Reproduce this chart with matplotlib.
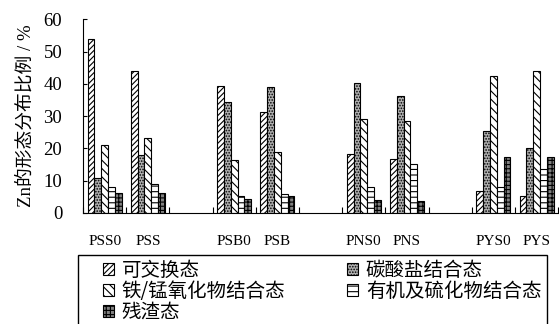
import numpy as np
import matplotlib.pyplot as plt
from matplotlib.patches import Patch, Rectangle

plt.rcParams['font.family'] = ['Liberation Serif', 'Noto Sans CJK SC']
plt.rcParams['hatch.linewidth'] = 0.8

# 样品与数据
samples = ['PSS0', 'PSS', 'PSB0', 'PSB', 'PNS0', 'PNS', 'PYS0', 'PYS']
slots = [0, 1, 3, 4, 6, 7, 9, 10]
fractions = ['可交换态', '碳酸盐结合态', '铁/锰氧化物结合态', '有机及硫化物结合态', '残渣态']
exchangeable = [54.0, 44.0, 39.2, 31.2, 18.4, 16.8, 6.8, 5.2]
carbonate = [10.7, 18.0, 34.5, 38.9, 40.4, 36.1, 25.3, 20.1]
femn_oxide = [21.0, 23.3, 16.4, 18.8, 29.2, 28.4, 42.5, 44.0]
organic = [8.0, 8.9, 5.2, 6.0, 8.0, 15.2, 8.0, 13.6]
residual = [6.2, 6.2, 4.4, 5.2, 4.0, 3.6, 17.3, 17.3]
series = [exchangeable, carbonate, femn_oxide, organic, residual]

styles = [
    dict(facecolor='white', hatch='//////'),
    dict(facecolor='#b0b0b0', hatch='......'),
    dict(facecolor='white', hatch='\\\\\\\\'),
    dict(facecolor='white', hatch='---'),
    dict(facecolor='#808080', hatch='++++'),
]

fig = plt.figure(figsize=(5.59, 3.24), dpi=100)
ax = fig.add_axes([0.1485, 0.3426, 0.85, 0.598])

w = 0.157
x = np.array(slots) + 0.5
for i, (vals, st) in enumerate(zip(series, styles)):
    ax.bar(x + (i - 2) * w, vals, width=w, edgecolor='black', linewidth=0.8, **st)

ax.set_xlim(0, 11)
ax.set_ylim(0, 60)
ax.set_yticks(range(0, 61, 10))
ax.set_xticks(range(0, 12), minor=True)
ax.set_xticks(x)
ax.set_xticklabels(samples, fontsize=11)
ax.tick_params(axis='x', which='major', length=0, pad=16)
ax.tick_params(axis='x', which='minor', direction='in', length=4, width=0.8)
ax.tick_params(axis='y', direction='in', length=3, labelsize=13.5, pad=15)
ax.spines['top'].set_visible(False)
ax.spines['right'].set_visible(False)
ax.set_ylabel('Zn的形态分布比例 / %', fontsize=13.5, labelpad=6)

# 图例外框
fig.patches.append(Rectangle((78 / 559, -0.1), (547 - 78) / 559, 0.1 + 1 - 255 / 324,
                             transform=fig.transFigure, fill=False,
                             edgecolor='black', linewidth=1.0, clip_on=False))

handles = [Patch(edgecolor='black', linewidth=0.8, label=f, **st) for f, st in zip(fractions, styles)]
order = [0, 2, 4, 1, 3]
leg = fig.legend([handles[k] for k in order], [fractions[k] for k in order],
                 ncol=2, loc='upper left', bbox_to_anchor=(103 / 559, 1 - 260 / 324),
                 frameon=False,
                 handlelength=0.55, handleheight=0.55, handletextpad=0.4,
                 labelspacing=0.0, columnspacing=3.2, borderpad=0,
                 borderaxespad=0,
                 prop={'family': ['Noto Sans CJK SC'], 'size': 14})

fig.savefig('out.png', dpi=100)
